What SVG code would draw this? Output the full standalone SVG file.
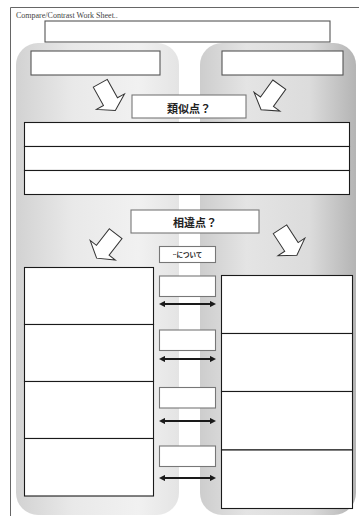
<svg xmlns="http://www.w3.org/2000/svg" width="359" height="516" viewBox="0 0 359 516">
<defs>
<style>
.frame{stroke:#666;stroke-width:1;fill:none}
.gbox{fill:#fff;stroke:#555;stroke-width:1.1}
.bbox{fill:#fff;stroke:#1a1a1a;stroke-width:1.1}
.mbox{fill:#fff;stroke:#777;stroke-width:1.1}
.lbl{font-family:"Noto Sans CJK JP","Noto Sans",sans-serif;font-weight:bold;fill:#222;text-anchor:middle}
.barrow{fill:#fff;stroke:#333;stroke-width:1}
.darrow{stroke:#1a1a1a;stroke-width:2;fill:none;marker-start:url(#ah);marker-end:url(#ah)}
</style>
<linearGradient id="gl" x1="0" y1="0" x2="1" y2="0">
<stop offset="0" stop-color="#d2d2d2"/>
<stop offset="0.35" stop-color="#e9e9e9"/>
<stop offset="0.75" stop-color="#f1f1f1"/>
<stop offset="1" stop-color="#e4e4e4"/>
</linearGradient>
<linearGradient id="gr" x1="0" y1="0" x2="1" y2="0">
<stop offset="0" stop-color="#cdcdcd"/>
<stop offset="0.3" stop-color="#e4e4e4"/>
<stop offset="0.7" stop-color="#dcdcdc"/>
<stop offset="1" stop-color="#b4b4b4"/>
</linearGradient>
<path id="ba" d="M-8,0 L8,0 L8,21 L16,21 L0,31 L-16,21 L-8,21 Z"/>
<marker id="ah" viewBox="0 0 10 10" refX="5" refY="5" markerWidth="3.2" markerHeight="3.2" orient="auto-start-reverse">
<path d="M0,0 L10,5 L0,10 Z" fill="#1a1a1a"/>
</marker>
</defs>
<rect width="359" height="516" fill="#fff"/>
<g id="frame">
<path class="frame" d="M10.5,516 V7.5 H359"/>
<text x="16" y="18" font-family="Liberation Serif,serif" font-size="8" fill="#444">Compare/Contrast Work Sheet..</text>
</g>
<g id="title-box"><rect class="gbox" x="45" y="21" width="285" height="21"/></g>
<g id="panel-left"><rect x="16" y="43" width="163" height="472" rx="22" fill="url(#gl)"/></g>
<g id="panel-right"><rect x="200" y="43" width="156" height="472" rx="22" fill="url(#gr)"/></g>
<g id="item-left"><rect class="gbox" x="31" y="51" width="129" height="24"/></g>
<g id="item-right"><rect class="gbox" x="222" y="51" width="121" height="24"/></g>
<g id="similar-label">
<rect class="mbox" x="132" y="95" width="114" height="23"/>
<text class="lbl" x="189" y="112.5" font-size="11">類似点？</text>
</g>
<g id="similar-rows">
<rect class="bbox" x="24.5" y="122.5" width="325" height="24"/>
<rect class="bbox" x="24.5" y="146.5" width="325" height="24"/>
<rect class="bbox" x="24.5" y="170.5" width="325" height="24"/>
</g>
<g id="diff-label">
<rect class="mbox" x="131" y="210" width="128" height="23"/>
<text class="lbl" x="195" y="227" font-size="11">相違点？</text>
</g>
<g id="about-label">
<rect class="mbox" x="159.5" y="246.5" width="56" height="16"/>
<text class="lbl" x="187.5" y="257" font-size="6.5" font-weight="normal">~について</text>
</g>
<g id="left-boxes">
<rect class="bbox" x="24.5" y="267.5" width="129" height="57"/>
<rect class="bbox" x="24.5" y="324.5" width="129" height="57"/>
<rect class="bbox" x="24.5" y="381.5" width="129" height="57"/>
<rect class="bbox" x="24.5" y="438.5" width="129" height="57.5"/>
</g>
<g id="right-boxes">
<rect class="bbox" x="221.5" y="275.5" width="131" height="58"/>
<rect class="bbox" x="221.5" y="333.5" width="131" height="58"/>
<rect class="bbox" x="221.5" y="391.5" width="131" height="58.5"/>
<rect class="bbox" x="221.5" y="450" width="131" height="58.5"/>
</g>
<g id="mid-boxes">
<rect class="mbox" x="159.5" y="276" width="56" height="20.5"/>
<rect class="mbox" x="159.5" y="330" width="56" height="20.5"/>
<rect class="mbox" x="159.5" y="387.5" width="56" height="20.5"/>
<rect class="mbox" x="159.5" y="446" width="56" height="20.5"/>
</g>
<g id="connectors">
<use href="#ba" class="barrow" transform="translate(100.3,83.3) rotate(-29)"/>
<use href="#ba" class="barrow" transform="translate(279.3,84.7) rotate(36)"/>
<use href="#ba" class="barrow" transform="translate(115.7,233.7) rotate(38)"/>
<use href="#ba" class="barrow" transform="translate(280,229.3) rotate(-33)"/>
<line class="darrow" x1="162" y1="304" x2="213" y2="304"/>
<line class="darrow" x1="162" y1="359" x2="213" y2="359"/>
<line class="darrow" x1="162" y1="421" x2="213" y2="421"/>
<line class="darrow" x1="162" y1="478" x2="213" y2="478"/>
</g>
</svg>
